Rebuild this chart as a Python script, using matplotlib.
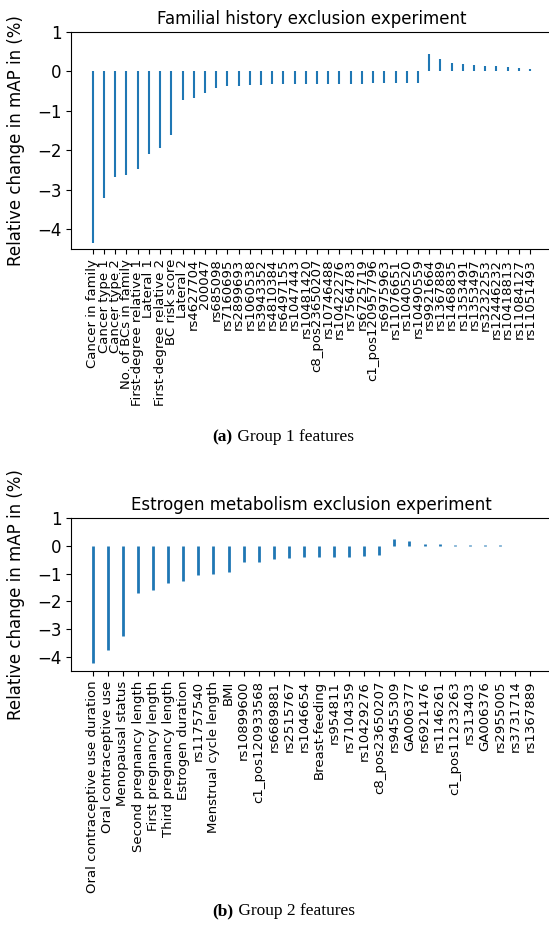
import numpy as np
import matplotlib
matplotlib.use("Agg")
import matplotlib.pyplot as plt

# Group 1: familial history features
labels_g1 = [
    "Cancer in family", "Cancer type 1", "Cancer type 2", "No. of BCs in family",
    "First-degree relative 1", "Lateral 1", "First-degree relative 2", "BC risk score",
    "Lateral 2", "rs4627704", "200047", "rs685098", "rs7160695", "rs2899693",
    "rs1060538", "rs3943352", "rs4810384", "rs6497155", "rs1047443", "rs10481420",
    "c8_pos23650207", "rs10746488", "rs10422276", "rs7564783", "rs6725719",
    "c1_pos120957796", "rs6975963", "rs11076651", "rs1040520", "rs10490559",
    "rs9921664", "rs1367889", "rs1468835", "rs1353491", "rs1353497", "rs3232253",
    "rs12446232", "rs10418813", "rs11084127", "rs11051493",
]
values_g1 = [
    -4.34, -3.22, -2.67, -2.63, -2.48, -2.10, -1.94, -1.60, -0.73, -0.67,
    -0.55, -0.41, -0.38, -0.38, -0.35, -0.34, -0.33, -0.33, -0.33, -0.32,
    -0.32, -0.32, -0.31, -0.31, -0.31, -0.30, -0.30, -0.30, -0.29, -0.29,
    0.45, 0.32, 0.22, 0.19, 0.17, 0.15, 0.13, 0.11, 0.08, 0.07,
]

# Group 2: estrogen metabolism features
labels_g2 = [
    "Oral contraceptive use duration", "Oral contraceptive use", "Menopausal status",
    "Second pregnancy length", "First pregnancy length", "Third pregnancy length",
    "Estrogen duration", "rs11757540", "Menstrual cycle length", "BMI",
    "rs10899600", "c1_pos120933568", "rs6689881", "rs2515767", "rs1046654",
    "Breast-feeding", "rs954811", "rs7104359", "rs10429276", "c8_pos23650207",
    "rs9455309", "GA006377", "rs6921476", "rs1146261", "c1_pos11233263",
    "rs313403", "GA006376", "rs2955005", "rs3731714", "rs1367889",
]
values_g2 = [
    -4.21, -3.74, -3.25, -1.70, -1.59, -1.33, -1.27, -1.04, -1.01, -0.93,
    -0.57, -0.57, -0.49, -0.43, -0.42, -0.41, -0.41, -0.39, -0.36, -0.32,
    0.24, 0.18, 0.08, 0.07, 0.03, 0.02, 0.015, 0.012, 0.01, 0.01,
]

ylabel = "Relative change in mAP in (%)"


def draw_panel(ax, labels, values, title, lw):
    x = np.arange(len(values))
    ax.vlines(x, 0, values, color="tab:blue", linewidth=lw)
    ax.set_xticks(x)
    ax.set_xticklabels(labels, rotation=90, fontsize=9.5)
    ax.set_ylim(-4.5, 1)
    ax.set_yticks([1, 0, -1, -2, -3, -4])
    ax.tick_params(axis="y", labelsize=12)
    ax.set_title(title, fontsize=12)
    ax.set_ylabel(ylabel, fontsize=12)
    ax.yaxis.set_label_coords(-0.095, 0.5)


fig = plt.figure(figsize=(5.49, 9.35), dpi=100)
ax1 = fig.add_axes([0.1293, 0.7337, 0.876, 0.2321])
ax2 = fig.add_axes([0.1293, 0.2824, 0.876, 0.1636])

draw_panel(ax1, labels_g1, values_g1, "Familial history exclusion experiment", 1.5)
draw_panel(ax2, labels_g2, values_g2, "Estrogen metabolism exclusion experiment", 2.0)

# subfigure captions: bold tag followed by plain text
for ypos, tag, rest in [(1 - 437 / 935, "(a)", " Group 1 features"),
                        (1 - 911 / 935, "(b)", " Group 2 features")]:
    t = fig.text(0.387, ypos, tag, fontsize=12.5, fontweight="bold",
                 family="Liberation Serif", ha="left", va="center")
    fig.add_artist(plt.Annotation(rest, xy=(1, 0), xycoords=t, fontsize=12.5,
                                  family="Liberation Serif", ha="left", va="bottom",
                                  annotation_clip=False))

fig.savefig("out.png", dpi=100)
